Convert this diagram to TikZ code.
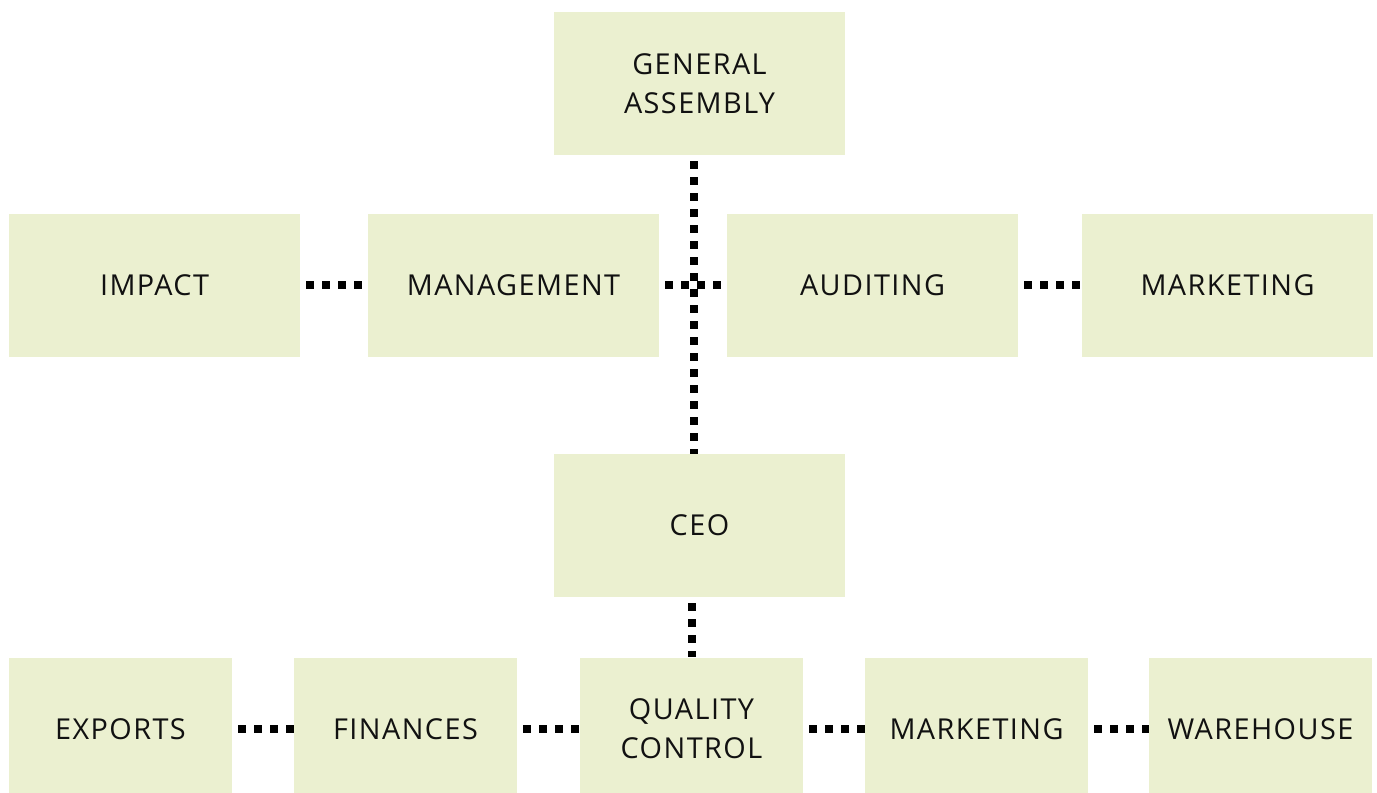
\documentclass[tikz,border=0pt]{standalone}
\usepackage{fontspec}
\setmainfont{Open Sans}[LetterSpace=5]
\usepackage{tikz}
\usetikzlibrary{positioning}
\definecolor{boxgreen}{RGB}{235,240,208}
\definecolor{boxtext}{RGB}{17,17,17}

\begin{document}
\begin{tikzpicture}[x=0.02cm, y=-0.02cm,
				unit/.style={rectangle, fill=boxgreen, text=boxtext, align=center,
					minimum width=5.82cm, minimum height=2.86cm, inner sep=0pt,
					font=\fontsize{16.4}{22.2}\selectfont},
				subunit/.style={unit, minimum width=4.46cm},
				link/.style={line width=4.55pt, dash pattern=on 4.55pt off 4.55pt, dash phase=5.7pt}]
				\useasboundingbox (0,0) rectangle (1377,793);
				% board nodes
				\node[unit] (ga) at (699.5, 83.5) {GENERAL\\ASSEMBLY};
				\node[unit] (impact) at (154.5, 285.5) {IMPACT};
				\node[unit] (mgmt) at (513.5, 285.5) {MANAGEMENT};
				\node[unit] (audit) at (872.5, 285.5) {AUDITING};
				\node[unit] (mkttop) at (1227.5, 285.5) {MARKETING};
				\node[unit] (ceo) at (699.5, 525.5) {CEO};
				% department nodes
				\node[subunit] (exports) at (120.5, 729) {EXPORTS};
				\node[subunit] (fin) at (405.5, 729) {FINANCES};
				\node[subunit] (qc) at (691.5, 729) {QUALITY\\CONTROL};
				\node[subunit] (mktbot) at (976.5, 729) {MARKETING};
				\node[subunit] (wh) at (1260.5, 729) {WAREHOUSE};
				% board links
				\draw[link] ([xshift=-0.11cm]ga.south) -- ([xshift=-0.11cm]ceo.north);
				\draw[link] (impact) -- (mgmt);
				\draw[link] (mgmt) -- (audit);
				\draw[link] (audit) -- (mkttop);
				% department links
				\draw[link] (ceo.south -| qc.north) -- (qc.north);
				\draw[link] (exports) -- (fin);
				\draw[link] (fin) -- (qc);
				\draw[link] (qc) -- (mktbot);
				\draw[link] (mktbot) -- (wh);
\end{tikzpicture}
\end{document}
